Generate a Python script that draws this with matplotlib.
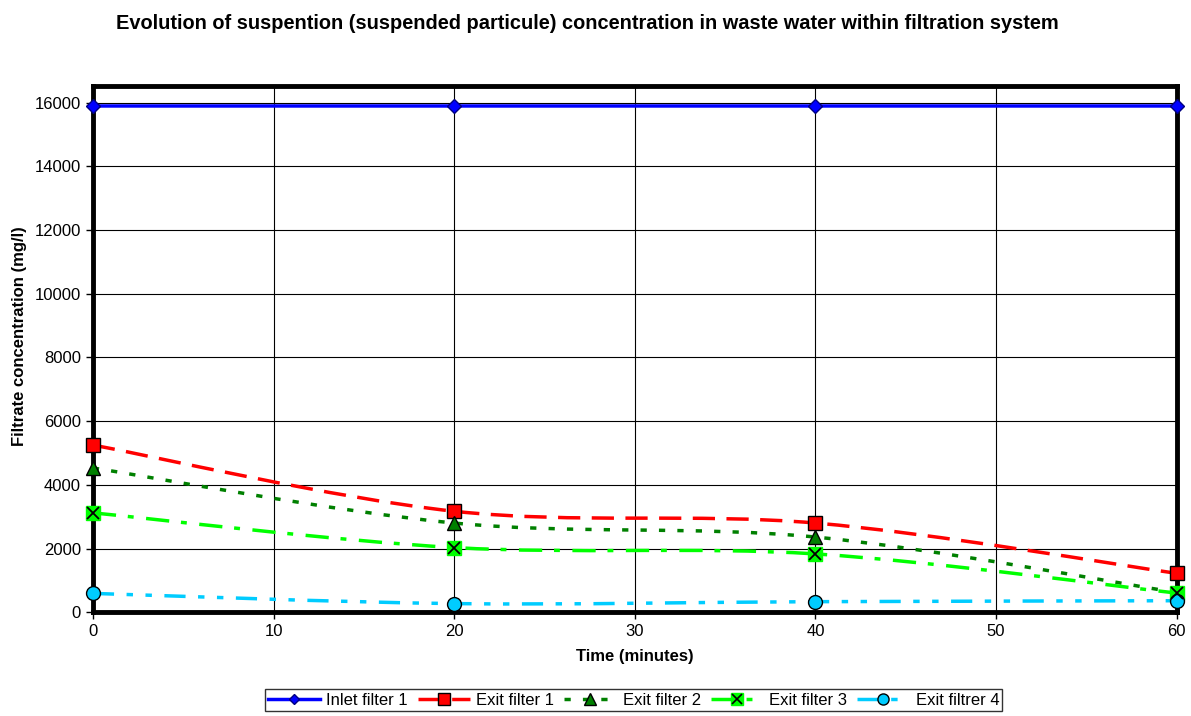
import numpy as np
import matplotlib.pyplot as plt
from matplotlib.path import Path
from matplotlib.patches import PathPatch
from matplotlib.lines import Line2D

plt.rcParams['font.family'] = ['Liberation Sans', 'DejaVu Sans']

# --- data ---
time_min = [0, 20, 40, 60]
inlet_1 = [15900, 15900, 15900, 15900]
exit_1 = [5250, 3170, 2800, 1220]
exit_2 = [4530, 2800, 2360, 620]
exit_3 = [3120, 2030, 1830, 600]
exit_4 = [590, 270, 330, 360]

labels = ['Inlet filter 1', 'Exit filter 1', 'Exit filter 2', 'Exit filter 3', 'Exit filtrer 4']
series = [inlet_1, exit_1, exit_2, exit_3, exit_4]


def smooth_path(x, y):
    # Excel-like smoothed line: cubic bezier segments (Catmull-Rom tangents)
    x = np.asarray(x, float)
    y = np.asarray(y, float)
    n = len(x)
    verts = [(x[0], y[0])]
    codes = [Path.MOVETO]
    for i in range(n - 1):
        x0, y0 = (x[i - 1], y[i - 1]) if i > 0 else (x[i], y[i])
        x3, y3 = (x[i + 2], y[i + 2]) if i + 2 < n else (x[i + 1], y[i + 1])
        c1 = (x[i] + (x[i + 1] - x0) / 6, y[i] + (y[i + 1] - y0) / 6)
        c2 = (x[i + 1] - (x3 - x[i]) / 6, y[i + 1] - (y3 - y[i]) / 6)
        verts += [c1, c2, (x[i + 1], y[i + 1])]
        codes += [Path.CURVE4] * 3
    return Path(verts, codes)


styles = [
    dict(color='#0000FF', ls='-', lw=2.5),
    dict(color='#FF0000', ls=(0, (6.4, 3.3)), lw=2.5),
    dict(color='#008000', ls=(0, (1.8, 3.5)), lw=2.5),
    dict(color='#00FF00', ls=(0, (6.7, 3.4, 1.7, 3.6)), lw=2.5),
    dict(color='#00CCFF', ls=(0, (6.1, 3.6, 1.85, 3.6, 1.85, 3.6)), lw=2.5),
]
markers = [
    dict(marker='D', ms=7, mfc='#0000FF', mec='#000080', mew=1),
    dict(marker='s', ms=10, mfc='#FF0000', mec='black', mew=1),
    dict(marker='^', ms=10, mfc='#008000', mec='black', mew=1),
    dict(marker='s', ms=10, mfc='#00FF00', mec='#00FF00', mew=1),
    dict(marker='o', ms=10, mfc='#00CCFF', mec='black', mew=1),
]

fig = plt.figure(figsize=(11.91, 7.16), dpi=100)
ax = fig.add_axes([0.078, 0.145, 0.910, 0.735])

for yv, st, mk in zip(series, styles, markers):
    patch = PathPatch(smooth_path(time_min, yv), fill=False, edgecolor=st['color'],
                      linestyle=st['ls'], linewidth=st['lw'], capstyle='butt', zorder=3)
    ax.add_patch(patch)
    ax.plot(time_min, yv, linestyle='none', zorder=4, clip_on=False, **mk)
# black cross on the exit filter 3 markers
ax.plot(time_min, exit_3, linestyle='none', marker='x', ms=9, mec='black', mew=1.3,
        zorder=5, clip_on=False)

ax.set_xlim(0, 60)
ax.set_ylim(0, 16530)
ax.set_xticks(range(0, 61, 10))
ax.set_yticks(range(0, 16001, 2000))
ax.grid(True, color='black', linewidth=0.8)
ax.set_axisbelow(True)
for sp in ax.spines.values():
    sp.set_linewidth(3.5)
ax.tick_params(labelsize=12, length=5, width=1)
ax.set_xlabel('Time (minutes)', fontsize=12, fontweight='bold', labelpad=7)
ax.set_ylabel('Filtrate concentration (mg/l)', fontsize=12, fontweight='bold')
ax.yaxis.set_label_coords(-0.061, 0.525)

fig.suptitle('Evolution of suspention (suspended particule) concentration in waste water within filtration system',
             x=0.493, y=0.98, fontsize=14.4, fontweight='bold')

handles = []
for i, (st, mk) in enumerate(zip(styles, markers)):
    h = Line2D([], [], color=st['color'], linestyle=st['ls'], linewidth=st['lw'],
               marker=mk['marker'], ms=mk['ms'] * 0.8, mfc=mk['mfc'], mec=mk['mec'], mew=1)
    if i == 3:
        cross = Line2D([], [], linestyle='none', marker='x', ms=7, mec='black', mew=1.2)
        h = (h, cross)
    handles.append(h)
leg = fig.legend(handles, labels, loc='center', bbox_to_anchor=(0.532, 0.022), ncol=5,
                 fontsize=12, frameon=True, fancybox=False, edgecolor='black',
                 handlelength=3.1, handletextpad=0.4, columnspacing=0.6, borderpad=0.2)
leg.get_frame().set_linewidth(1)

fig.savefig('out.png', dpi=100)
